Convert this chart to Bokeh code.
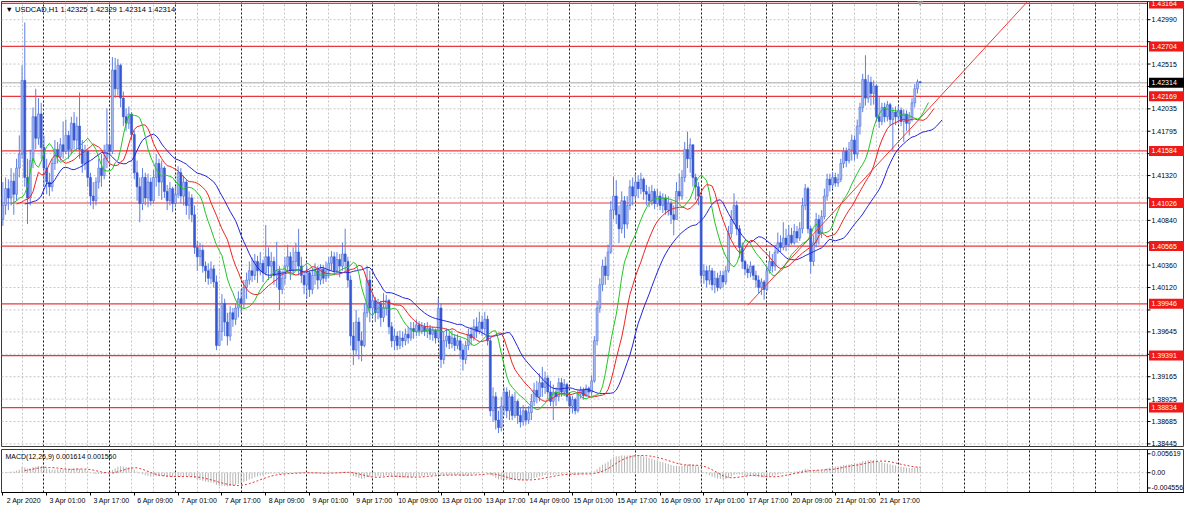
import numpy as np
import pandas as pd
from bokeh.plotting import figure
from bokeh.layouts import column
from bokeh.models import Range1d, FixedTicker, Span, Label, Grid, LinearAxis
from bokeh.core.properties import value
from bokeh.embed import file_html
from bokeh.resources import INLINE

# ---------------- data ----------------
symbol = "USDCAD,H1"
start_hour = 9          # first bar: 2 Apr 2020 09:00
first_open = 1.4085

close = [
    1.4100, 1.4118, 1.4108, 1.4126, 1.4112, 1.4140, 1.4155, 1.4234,
    1.4130, 1.4108, 1.4148, 1.4195, 1.4172, 1.4198, 1.4162, 1.4140,
    1.4125, 1.4120, 1.4145, 1.4160, 1.4152, 1.4165, 1.4158, 1.4175,
    1.4160, 1.4188, 1.4170, 1.4185, 1.4160, 1.4145, 1.4158, 1.4130,
    1.4110, 1.4105, 1.4125, 1.4140, 1.4132, 1.4150, 1.4165, 1.4158,
    1.4245, 1.4225, 1.4250, 1.4215, 1.4195, 1.4188, 1.4198, 1.4176,
    1.4135, 1.4120, 1.4102, 1.4130, 1.4108, 1.4125, 1.4105, 1.4130,
    1.4145, 1.4125, 1.4140, 1.4115, 1.4105, 1.4118, 1.4102, 1.4112,
    1.4135, 1.4110, 1.4125, 1.4100, 1.4108, 1.4090, 1.4055, 1.4045,
    1.4052, 1.4035, 1.4030, 1.4022, 1.4032, 1.4018, 1.3950, 1.3965,
    1.3995, 1.3975, 1.3960, 1.3985, 1.3978, 1.3990, 1.4000, 1.3995,
    1.4012, 1.4020, 1.4030, 1.4025, 1.4040, 1.4030, 1.4038, 1.4028,
    1.4045, 1.4035, 1.4040, 1.4025, 1.4030, 1.4010, 1.4022, 1.4035,
    1.4045, 1.4030, 1.4040, 1.4050, 1.4035, 1.4025, 1.4015, 1.4028,
    1.4010, 1.4025, 1.4030, 1.4020, 1.4032, 1.4022, 1.4030, 1.4038,
    1.4045, 1.4030, 1.4042, 1.4035, 1.4048, 1.4040, 1.4020, 1.3960,
    1.3945, 1.3975, 1.3955, 1.3950, 1.3985, 1.4020, 1.3990, 1.3998,
    1.3985, 1.3995, 1.3980, 1.3990, 1.3998, 1.3970, 1.3955, 1.3960,
    1.3950, 1.3958, 1.3955, 1.3962, 1.3958, 1.3968, 1.3965, 1.3972,
    1.3966, 1.3970, 1.3965, 1.3968, 1.3962, 1.3966, 1.3958, 1.3990,
    1.3935, 1.3955, 1.3960, 1.3952, 1.3958, 1.3950, 1.3955, 1.3945,
    1.3935, 1.3950, 1.3962, 1.3958, 1.3970, 1.3965, 1.3975, 1.3968,
    1.3978, 1.3955, 1.3880, 1.3895, 1.3870, 1.3862, 1.3885, 1.3900,
    1.3880, 1.3895, 1.3875, 1.3890, 1.3875, 1.3868, 1.3880, 1.3870,
    1.3878, 1.3890, 1.3902, 1.3895, 1.3910, 1.3905, 1.3915, 1.3900,
    1.3890, 1.3900, 1.3895, 1.3910, 1.3900, 1.3908, 1.3895, 1.3885,
    1.3892, 1.3880, 1.3898, 1.3902, 1.3896, 1.3904, 1.3900, 1.3912,
    1.3955, 1.3990, 1.4015, 1.4035, 1.4025, 1.4050, 1.4095, 1.4110,
    1.4090, 1.4075, 1.4105, 1.4080, 1.4100, 1.4120, 1.4110, 1.4125,
    1.4118, 1.4128, 1.4115, 1.4112, 1.4105, 1.4115, 1.4102, 1.4110,
    1.4100, 1.4108, 1.4095, 1.4102, 1.4090, 1.4085, 1.4115, 1.4110,
    1.4130, 1.4160, 1.4150, 1.4165, 1.4130, 1.4120, 1.4110, 1.4025,
    1.4030, 1.4020, 1.4030, 1.4015, 1.4022, 1.4012, 1.4025, 1.4018,
    1.4030, 1.4070, 1.4085, 1.4100, 1.4075, 1.4055, 1.4040, 1.4032,
    1.4028, 1.4035, 1.4025, 1.4020, 1.4012, 1.4018, 1.4010, 1.4030,
    1.4040, 1.4035, 1.4050, 1.4060, 1.4055, 1.4065, 1.4058, 1.4068,
    1.4060, 1.4072, 1.4065, 1.4075, 1.4100, 1.4118, 1.4075, 1.4040,
    1.4060, 1.4085, 1.4070, 1.4088, 1.4110, 1.4128, 1.4122, 1.4130,
    1.4124, 1.4128, 1.4145, 1.4158, 1.4148, 1.4160, 1.4170, 1.4155,
    1.4185, 1.4205, 1.4235, 1.4215, 1.4232, 1.4220, 1.4228, 1.4195,
    1.4190, 1.4205, 1.4195, 1.4208, 1.4192, 1.4200, 1.4195, 1.4202,
    1.4190, 1.4198, 1.4188, 1.4195, 1.4210, 1.4225, 1.42325, 1.42314,
]

high = [
    1.4125, 1.4130, 1.4128, 1.4140, 1.4135, 1.4150, 1.4175, 1.4250,
    1.4296, 1.4150, 1.4160, 1.4205, 1.4225, 1.4215, 1.4210, 1.4175,
    1.4150, 1.4135, 1.4150, 1.4170, 1.4168, 1.4172, 1.4190, 1.4192,
    1.4180, 1.4195, 1.4200, 1.4195, 1.4221, 1.4170, 1.4165, 1.4160,
    1.4135, 1.4125, 1.4130, 1.4150, 1.4155, 1.4165, 1.4204, 1.4175,
    1.4259, 1.4258, 1.4257, 1.4252, 1.4222, 1.4204, 1.4206, 1.4200,
    1.4180, 1.4148, 1.4130, 1.4140, 1.4135, 1.4134, 1.4130, 1.4138,
    1.4155, 1.4150, 1.4148, 1.4142, 1.4122, 1.4125, 1.4120, 1.4120,
    1.4142, 1.4140, 1.4132, 1.4128, 1.4115, 1.4112, 1.4100, 1.4062,
    1.4060, 1.4058, 1.4040, 1.4038, 1.4040, 1.4036, 1.4025, 1.3990,
    1.4005, 1.4000, 1.3985, 1.3992, 1.3990, 1.3995, 1.4008, 1.4010,
    1.4020, 1.4028, 1.4040, 1.4044, 1.4048, 1.4046, 1.4050, 1.4042,
    1.4079, 1.4055, 1.4050, 1.4045, 1.4061, 1.4035, 1.4030, 1.4045,
    1.4058, 1.4050, 1.4055, 1.4060, 1.4075, 1.4045, 1.4030, 1.4035,
    1.4030, 1.4033, 1.4038, 1.4035, 1.4037, 1.4036, 1.4040, 1.4045,
    1.4051, 1.4050, 1.4050, 1.4048, 1.4060, 1.4075, 1.4045, 1.4025,
    1.3975, 1.3988, 1.3980, 1.3965, 1.3995, 1.4035, 1.4030, 1.4006,
    1.4002, 1.4000, 1.3998, 1.4006, 1.4004, 1.4000, 1.3975, 1.3968,
    1.3965, 1.3966, 1.3965, 1.3968, 1.3970, 1.3975, 1.3975, 1.3978,
    1.3976, 1.3975, 1.3974, 1.3975, 1.3972, 1.3970, 1.3968, 1.4000,
    1.3995, 1.3965, 1.3968, 1.3965, 1.3966, 1.3962, 1.3962, 1.3958,
    1.3952, 1.3955, 1.3968, 1.3970, 1.3978, 1.3980, 1.3986, 1.3982,
    1.3986, 1.3982, 1.3958, 1.3905, 1.3900, 1.3880, 1.3895, 1.3905,
    1.3905, 1.3902, 1.3898, 1.3900, 1.3892, 1.3884, 1.3886, 1.3884,
    1.3885, 1.3898, 1.3910, 1.3912, 1.3920, 1.3927, 1.3922, 1.3918,
    1.3912, 1.3908, 1.3905, 1.3915, 1.3915, 1.3914, 1.3910, 1.3898,
    1.3896, 1.3894, 1.3902, 1.3906, 1.3905, 1.3908, 1.3906, 1.3918,
    1.3960, 1.3998, 1.4022, 1.4042, 1.4045, 1.4058, 1.4105, 1.4131,
    1.4127, 1.4100, 1.4115, 1.4110, 1.4110, 1.4127, 1.4130, 1.4134,
    1.4132, 1.4135, 1.4130, 1.4122, 1.4120, 1.4122, 1.4118, 1.4118,
    1.4115, 1.4113, 1.4112, 1.4110, 1.4105, 1.4100, 1.4125, 1.4134,
    1.4138, 1.4168, 1.4179, 1.4172, 1.4165, 1.4134, 1.4125, 1.4112,
    1.4037, 1.4035, 1.4036, 1.4033, 1.4030, 1.4028, 1.4030, 1.4030,
    1.4035, 1.4078, 1.4095, 1.4113, 1.4105, 1.4079, 1.4060, 1.4042,
    1.4037, 1.4040, 1.4036, 1.4030, 1.4025, 1.4022, 1.4020, 1.4035,
    1.4051, 1.4048, 1.4058, 1.4071, 1.4068, 1.4082, 1.4075, 1.4079,
    1.4076, 1.4080, 1.4078, 1.4082, 1.4108, 1.4123, 1.4120, 1.4078,
    1.4068, 1.4092, 1.4090, 1.4095, 1.4118, 1.4134, 1.4134, 1.4136,
    1.4135, 1.4134, 1.4150, 1.4162, 1.4162, 1.4168, 1.4176, 1.4175,
    1.4192, 1.4210, 1.4241, 1.4261, 1.4240, 1.4238, 1.4234, 1.4230,
    1.4217, 1.4210, 1.4210, 1.4212, 1.4210, 1.4205, 1.4206, 1.4207,
    1.4205, 1.4203, 1.4202, 1.4200, 1.4215, 1.4230, 1.4235, 1.42329,
]

low = [
    1.4078, 1.4090, 1.4095, 1.4100, 1.4090, 1.4105, 1.4130, 1.4150,
    1.4120, 1.4080, 1.4100, 1.4140, 1.4160, 1.4165, 1.4150, 1.4120,
    1.4112, 1.4110, 1.4115, 1.4138, 1.4145, 1.4148, 1.4150, 1.4155,
    1.4150, 1.4155, 1.4160, 1.4160, 1.4150, 1.4135, 1.4138, 1.4120,
    1.4100, 1.4096, 1.4100, 1.4118, 1.4120, 1.4128, 1.4140, 1.4145,
    1.4155, 1.4215, 1.4218, 1.4205, 1.4185, 1.4180, 1.4182, 1.4170,
    1.4128, 1.4105, 1.4082, 1.4095, 1.4100, 1.4098, 1.4100, 1.4102,
    1.4120, 1.4110, 1.4106, 1.4108, 1.4095, 1.4100, 1.4093, 1.4098,
    1.4108, 1.4102, 1.4100, 1.4090, 1.4085, 1.4082, 1.4048, 1.4030,
    1.4035, 1.4028, 1.4018, 1.4015, 1.4016, 1.4012, 1.3945, 1.3950,
    1.3955, 1.3960, 1.3950, 1.3955, 1.3970, 1.3972, 1.3980, 1.3985,
    1.3990, 1.4000, 1.4015, 1.4018, 1.4020, 1.4017, 1.4025, 1.4018,
    1.4025, 1.4020, 1.4022, 1.4015, 1.4012, 1.3988, 1.4005, 1.4015,
    1.4028, 1.4020, 1.4025, 1.4030, 1.4025, 1.4017, 1.4005, 1.4000,
    1.4002, 1.4005, 1.4015, 1.4010, 1.4015, 1.4016, 1.4018, 1.4022,
    1.4030, 1.4025, 1.4028, 1.4023, 1.4030, 1.4030, 1.4012, 1.3950,
    1.3929, 1.3940, 1.3935, 1.3933, 1.3948, 1.3980, 1.3975, 1.3980,
    1.3975, 1.3978, 1.3970, 1.3975, 1.3982, 1.3962, 1.3948, 1.3945,
    1.3945, 1.3946, 1.3948, 1.3950, 1.3952, 1.3955, 1.3957, 1.3960,
    1.3960, 1.3962, 1.3960, 1.3958, 1.3956, 1.3955, 1.3952, 1.3955,
    1.3926, 1.3930, 1.3948, 1.3946, 1.3947, 1.3944, 1.3946, 1.3935,
    1.3923, 1.3930, 1.3945, 1.3950, 1.3955, 1.3958, 1.3962, 1.3960,
    1.3962, 1.3950, 1.3874, 1.3868, 1.3860, 1.3856, 1.3858, 1.3875,
    1.3872, 1.3870, 1.3870, 1.3872, 1.3866, 1.3862, 1.3864, 1.3865,
    1.3866, 1.3870, 1.3885, 1.3888, 1.3890, 1.3895, 1.3898, 1.3892,
    1.3885, 1.3870, 1.3885, 1.3890, 1.3895, 1.3896, 1.3890, 1.3878,
    1.3877, 1.3876, 1.3878, 1.3893, 1.3892, 1.3895, 1.3894, 1.3896,
    1.3910, 1.3950, 1.3985, 1.4008, 1.4015, 1.4020, 1.4048, 1.4085,
    1.4080, 1.4060, 1.4070, 1.4065, 1.4075, 1.4095, 1.4100, 1.4105,
    1.4108, 1.4112, 1.4106, 1.4100, 1.4098, 1.4100, 1.4096, 1.4098,
    1.4095, 1.4092, 1.4090, 1.4089, 1.4080, 1.4068, 1.4085, 1.4105,
    1.4106, 1.4125, 1.4140, 1.4135, 1.4120, 1.4106, 1.4100, 1.4016,
    1.4016, 1.4012, 1.4015, 1.4009, 1.4006, 1.4008, 1.4010, 1.4012,
    1.4015, 1.4028, 1.4065, 1.4080, 1.4068, 1.4044, 1.4032, 1.4025,
    1.4022, 1.4023, 1.4020, 1.4012, 1.4006, 1.4004, 1.3999, 1.4008,
    1.4027, 1.4028, 1.4030, 1.4048, 1.4050, 1.4052, 1.4051, 1.4055,
    1.4058, 1.4058, 1.4060, 1.4062, 1.4070, 1.4095, 1.4070, 1.4027,
    1.4035, 1.4055, 1.4058, 1.4065, 1.4085, 1.4105, 1.4115, 1.4118,
    1.4120, 1.4120, 1.4125, 1.4140, 1.4141, 1.4145, 1.4148, 1.4148,
    1.4150, 1.4176, 1.4200, 1.4207, 1.4210, 1.4207, 1.4208, 1.4190,
    1.4183, 1.4186, 1.4189, 1.4190, 1.4185, 1.4158, 1.4186, 1.4188,
    1.4185, 1.4168, 1.4180, 1.4175, 1.4190, 1.4205, 1.4220, 1.42314,
]

levels = [1.43164, 1.42704, 1.42169, 1.41584, 1.41026, 1.40565, 1.39946, 1.39391, 1.38834]
price_ticks = [1.42990, 1.42755, 1.42515, 1.42275, 1.42035, 1.41795, 1.41555, 1.41320,
               1.41080, 1.40840, 1.40600, 1.40360, 1.40120, 1.39880, 1.39645, 1.39405,
               1.39165, 1.38925, 1.38685, 1.38445]
time_labels = ["2 Apr 2020", "3 Apr 01:00", "3 Apr 17:00", "6 Apr 09:00", "7 Apr 01:00",
               "7 Apr 17:00", "8 Apr 09:00", "9 Apr 01:00", "9 Apr 17:00", "10 Apr 09:00",
               "13 Apr 01:00", "13 Apr 17:00", "14 Apr 09:00", "15 Apr 01:00", "15 Apr 17:00",
               "16 Apr 09:00", "17 Apr 01:00", "17 Apr 17:00", "20 Apr 09:00", "21 Apr 01:00",
               "21 Apr 17:00"]
trend_x = [272, 375]
trend_y = [1.3993, 1.4321]
macd_ticks = [0.005619, 0.0, -0.004556]
macd_tick_labels = ["0.005619", "0.00", "-0.004556"]
macd_header = "MACD(12,26,9) 0.001614 0.001560"

# ---------------- derived series ----------------
n = len(close)
idx = np.arange(n)
c = np.array(close)
o = np.concatenate([[first_open], c[:-1]])
top = np.maximum(o, c)
bot = np.minimum(o, c)
hi = np.maximum(np.array(high), top)
lo = np.minimum(np.array(low), bot)
bull = c >= o
med = (hi + lo) / 2.0


def smma(x, period):
    return pd.Series(x).ewm(alpha=1.0 / period, adjust=False).mean().to_numpy()


jaw, teeth, lips = smma(med, 13), smma(med, 8), smma(med, 5)
ema12 = pd.Series(c).ewm(span=12, adjust=False).mean()
ema26 = pd.Series(c).ewm(span=26, adjust=False).mean()
macd = (ema12 - ema26).to_numpy()
signal = pd.Series(macd).rolling(9).mean().to_numpy()

header = "\u25bc %s  %.5f %.5f %.5f %.5f" % (symbol, o[-1], hi[-1], lo[-1], c[-1])
bid = c[-1]

# ---------------- layout constants ----------------
FONT = "Liberation Sans"
W = 1184
LB = 1
SCALE_W = 37                                     # width of the price-scale strip, px
H_MAIN, H_MACD = 447, 62
X0, CHART_END = -0.5, 418.0
PPB = (W - LB - SCALE_W) / (CHART_END - X0)      # pixels per bar
X_FULL = X0 + (W - LB) / PPB                     # frames also hold the price-scale strip
Y0, Y1 = 1.38417, 1.43185
M0, M1 = -0.0059, 0.0069
BARS_PER_DAY = 24
first_midnight = BARS_PER_DAY - start_hour
light_x = [t for t in range(first_midnight % 8 - 8, int(CHART_END) + 1, 8) if t < CHART_END]
dark_x = [t for t in range(first_midnight, int(CHART_END) + 1, BARS_PER_DAY) if t < CHART_END]
time_ticks = [16 * k for k in range(len(time_labels))]
GRID_LIGHT = "#c6c6c6"
GRID_DARK = "#1e1e1e"
TXT = dict(text_font=value(FONT), text_font_size="7px", text_baseline="middle", text_align="left")


def add_vgrids(fig):
    fig.add_layout(Grid(dimension=0, ticker=FixedTicker(ticks=light_x),
                        grid_line_color=GRID_LIGHT, grid_line_dash="2 2", grid_line_width=1))
    fig.add_layout(Grid(dimension=0, ticker=FixedTicker(ticks=dark_x),
                        grid_line_color=GRID_DARK, grid_line_dash="2 2", grid_line_width=1))


def add_scale(fig, ticks, labels):
    k = len(ticks)
    fig.add_layout(Span(location=CHART_END, dimension="height", line_color="#000000", line_width=1))
    fig.segment(x0=[CHART_END] * k, y0=ticks, x1=[CHART_END + 3 / PPB] * k, y1=ticks,
                line_color="#000000", line_width=1)
    fig.text(x=[CHART_END + 4 / PPB] * len(labels), y=[t for t, _ in labels],
             text=[s for _, s in labels], text_color="#000000", **TXT)


def style_axis(ax):
    ax.major_label_text_font = FONT
    ax.major_label_text_font_size = "7px"
    ax.major_label_text_color = "#000000"
    ax.major_tick_out = 3
    ax.major_tick_in = 0
    ax.minor_tick_out = 0
    ax.minor_tick_in = 0
    ax.axis_line_color = "#000000"
    ax.major_tick_line_color = "#000000"
    ax.major_label_standoff = 2


# ---------------- main price panel (chart + price scale) ----------------
p = figure(width=W, height=H_MAIN, x_range=Range1d(X0, X_FULL), y_range=Range1d(Y0, Y1),
           output_backend="svg", toolbar_location=None,
           x_axis_location=None, y_axis_location=None,
           min_border_left=LB, min_border_right=0, min_border_top=1, min_border_bottom=1,
           background_fill_color="white", border_fill_color="white",
           outline_line_color="#3a3a3a")
p.xgrid.visible = False
p.ygrid.visible = False
add_vgrids(p)

nt = len(price_ticks)
p.segment(x0=[X0] * nt, y0=price_ticks, x1=[CHART_END] * nt, y1=price_ticks,
          line_color=GRID_LIGHT, line_dash="2 2", line_width=1)
nl = len(levels)
p.segment(x0=[X0] * nl, y0=levels, x1=[CHART_END] * nl, y1=levels,
          line_color="#e8383d", line_width=1.2)
p.segment(x0=[X0], y0=[bid], x1=[CHART_END], y1=[bid], line_color="#c4c4c4", line_width=1.5)

wick = "#5f7fe2"
fills = np.where(bull, "#a9bdf2", "#3657d2")
lines = np.where(bull, "#4f70de", "#3657d2")
p.segment(x0=idx, y0=lo, x1=idx, y1=hi, line_color=wick, line_width=1)
p.vbar(x=idx, top=top, bottom=bot, width=0.72, fill_color=list(fills),
       line_color=list(lines), line_width=0.6)

p.line(idx + 8, jaw, line_color="#2424d8", line_width=1)
p.line(idx + 5, teeth, line_color="#ee2222", line_width=1)
p.line(idx + 3, lips, line_color="#22c422", line_width=1)
p.line(trend_x, trend_y, line_color="#f23a3a", line_width=1)

p.scatter(x=[n - 1], y=[Y1], marker="inverted_triangle", size=7,
          fill_color="#a8a8a8", line_color="#a8a8a8")

marked = levels + [bid]
vis_ticks = [t for t in price_ticks if min(abs(t - m) for m in marked) > 0.00085]
add_scale(p, price_ticks, [(t, "%.5f" % t) for t in vis_ticks])

box_x = (CHART_END + 1.5 / PPB + X_FULL) / 2
box_w = X_FULL - CHART_END - 1.5 / PPB
p.rect(x=[box_x] * nl, y=levels, width=box_w, height=10, height_units="screen",
       fill_color="#f01818", line_color=None)
p.text(x=[CHART_END + 4 / PPB] * nl, y=levels, text=["%.5f" % v for v in levels],
       text_color="#ffffff", **TXT)
p.rect(x=[box_x], y=[bid], width=box_w, height=10, height_units="screen",
       fill_color="#000000", line_color=None)
p.text(x=[CHART_END + 4 / PPB], y=[bid], text=["%.5f" % bid], text_color="#ffffff", **TXT)

p.add_layout(Label(x=4, y=H_MAIN - 2 - 3, x_units="screen", y_units="screen", text=header,
                   text_font=FONT, text_font_size="7.5px", text_color="#000000",
                   text_baseline="top", text_align="left"))

# ---------------- MACD panel ----------------
p2 = figure(width=W, height=H_MACD, x_range=Range1d(X0, X_FULL), y_range=Range1d(M0, M1),
            output_backend="svg", toolbar_location=None, y_axis_location=None,
            min_border_left=LB, min_border_right=0, min_border_top=2, min_border_bottom=17,
            background_fill_color="white", border_fill_color="white",
            outline_line_color="#3a3a3a")
p2.xgrid.visible = False
p2.ygrid.visible = False
# tick marks only on the main time axis
p2.xaxis.ticker = FixedTicker(ticks=time_ticks)
p2.xaxis.major_label_overrides = {t: "" for t in time_ticks}
style_axis(p2.xaxis[0])
p2.xaxis.major_label_text_font_size = "0px"
p2.xaxis.major_label_standoff = 0
# labels start just right of their tick (MT4 style): drawn on a shifted range
shift = 21 / PPB
p2.extra_x_ranges = {"lbl": Range1d(X0 - shift, X_FULL - shift)}
lbl_axis = LinearAxis(x_range_name="lbl", ticker=FixedTicker(ticks=time_ticks),
                      major_label_overrides={t: s for t, s in zip(time_ticks, time_labels)})
style_axis(lbl_axis)
lbl_axis.major_tick_out = 0
lbl_axis.axis_line_color = None
lbl_axis.major_tick_line_color = None
lbl_axis.minor_tick_line_color = None
lbl_axis.major_label_standoff = 1
p2.add_layout(lbl_axis, "below")

add_vgrids(p2)
p2.segment(x0=[X0], y0=[0.0], x1=[CHART_END], y1=[0.0],
           line_color=GRID_LIGHT, line_dash="2 2", line_width=1)
p2.segment(x0=idx, y0=np.zeros(n), x1=idx, y1=macd, line_color="#b4b4b4", line_width=1)
p2.line(idx, signal, line_color="#e23030", line_width=1, line_dash="2 2")
add_scale(p2, macd_ticks, list(zip(macd_ticks, macd_tick_labels)))
p2.add_layout(Label(x=4, y=H_MACD - 2 - 17 - 3, x_units="screen", y_units="screen",
                    text=macd_header, text_font=FONT, text_font_size="7px",
                    text_color="#000000", text_baseline="top", text_align="left"))

layout = column(p, p2, spacing=0)
open("out.html", "w").write(file_html(layout, INLINE, title="USDCAD,H1"))
